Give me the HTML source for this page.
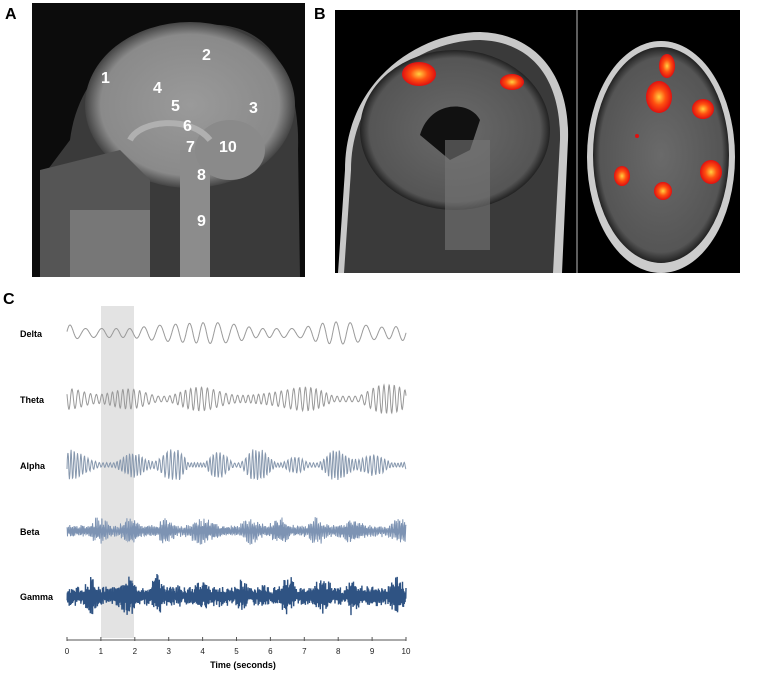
<!DOCTYPE html>
<html><head><meta charset="utf-8"><style>
html,body{margin:0;padding:0;background:#fff;width:765px;height:673px;overflow:hidden}
svg{display:block}
text{font-family:"Liberation Sans",sans-serif}
</style></head><body>
<svg id="s" width="765" height="673" viewBox="0 0 765 673" xmlns="http://www.w3.org/2000/svg">
<defs>
<radialGradient id="brainA" cx="0.5" cy="0.5" r="0.5">
<stop offset="0" stop-color="#9a9a9a"/><stop offset="0.85" stop-color="#8a8a8a"/><stop offset="1" stop-color="#444"/></radialGradient>
<radialGradient id="blob" cx="0.5" cy="0.5" r="0.5">
<stop offset="0" stop-color="#ffd040"/><stop offset="0.5" stop-color="#ff5010"/><stop offset="1" stop-color="#e01010"/></radialGradient>
<radialGradient id="brainB" cx="0.5" cy="0.5" r="0.5">
<stop offset="0" stop-color="#6a6a6a"/><stop offset="0.9" stop-color="#555"/><stop offset="1" stop-color="#222"/></radialGradient>
</defs>
<!-- Panel A -->
<text x="5" y="19" font-size="16" font-weight="bold">A</text>
<rect x="32" y="3" width="273" height="274" fill="#0c0c0c"/>
<path d="M70,140 C80,60 150,20 220,25 C280,30 300,90 298,150 L300,277 L150,277 L120,230 L50,230 L40,180 Z" fill="#3a3a3a"/>
<ellipse cx="190" cy="105" rx="105" ry="83" fill="url(#brainA)"/>
<path d="M40,170 L120,150 L150,180 L150,277 L40,277 Z" fill="#555"/>
<rect x="70" y="210" width="80" height="67" fill="#777"/>
<rect x="180" y="150" width="30" height="127" fill="#8c8c8c"/>
<ellipse cx="230" cy="150" rx="35" ry="30" fill="#8a8a8a"/>
<path d="M130,140 C140,120 190,115 210,140" stroke="#b0b0b0" stroke-width="6" fill="none"/>
<g fill="#fff" font-weight="bold" font-size="16">
<text x="101" y="83">1</text><text x="202" y="60">2</text><text x="249" y="113">3</text>
<text x="153" y="93">4</text><text x="171" y="111">5</text><text x="183" y="131">6</text>
<text x="186" y="152">7</text><text x="197" y="180">8</text><text x="197" y="226">9</text>
<text x="219" y="152">10</text></g>
<!-- Panel B -->
<text x="314" y="19" font-size="16" font-weight="bold">B</text>
<rect x="335" y="10" width="405" height="263" fill="#000"/>
<line x1="577" y1="10" x2="577" y2="273" stroke="#bbb" stroke-width="1"/>
<path d="M345,170 C345,80 420,32 480,32 C540,34 570,80 568,140 L562,273 L338,273 Z" fill="#c8c8c8"/>
<path d="M351,170 C351,86 422,40 480,40 C536,42 561,84 560,140 L553,273 L344,273 Z" fill="#3a3a3a"/>
<ellipse cx="455" cy="130" rx="95" ry="80" fill="url(#brainB)"/>
<path d="M420,135 C430,100 470,100 480,120 L470,150 L450,160 Z" fill="#111"/>
<rect x="445" y="140" width="45" height="110" fill="#777" opacity="0.6"/>
<ellipse cx="419" cy="74" rx="17" ry="12" fill="url(#blob)"/>
<ellipse cx="512" cy="82" rx="12" ry="8" fill="url(#blob)"/>
<ellipse cx="661" cy="157" rx="74" ry="116" fill="#ccc"/>
<ellipse cx="661" cy="155" rx="68" ry="108" fill="url(#brainB)"/>
<ellipse cx="667" cy="66" rx="8" ry="12" fill="url(#blob)"/>
<ellipse cx="659" cy="97" rx="13" ry="16" fill="url(#blob)"/>
<ellipse cx="703" cy="109" rx="11" ry="10" fill="url(#blob)"/>
<ellipse cx="622" cy="176" rx="8" ry="10" fill="url(#blob)"/>
<ellipse cx="663" cy="191" rx="9" ry="9" fill="url(#blob)"/>
<ellipse cx="711" cy="172" rx="11" ry="12" fill="url(#blob)"/>
<circle cx="637" cy="136" r="2" fill="#e01010"/>
<!-- Panel C -->
<text x="3" y="304" font-size="16" font-weight="bold">C</text>
<rect x="101" y="306" width="33" height="332" fill="#e3e3e3"/>
<g font-size="9" font-weight="bold">
<text x="20" y="337">Delta</text><text x="20" y="403">Theta</text><text x="20" y="469">Alpha</text>
<text x="20" y="535">Beta</text><text x="20" y="600">Gamma</text></g>
<line x1="67" y1="640" x2="406" y2="640" stroke="#555" stroke-width="1"/>
<g id="ticks" font-size="8" fill="#222" text-anchor="middle"></g>
<text x="243" y="668" font-size="9" font-weight="bold" text-anchor="middle">Time (seconds)</text>
<g id="waves" fill="none"></g>
</svg>
<script>
var NS="http://www.w3.org/2000/svg";
var t=document.getElementById("ticks");
for(var i=0;i<=10;i++){var x=67+i*33.9;
var l=document.createElementNS(NS,"line");l.setAttribute("x1",x);l.setAttribute("x2",x);l.setAttribute("y1",637);l.setAttribute("y2",641);l.setAttribute("stroke","#555");t.appendChild(l);
var tx=document.createElementNS(NS,"text");tx.setAttribute("x",x);tx.setAttribute("y",654);tx.textContent=i;t.appendChild(tx);}
var seed=11;function r(){seed=(seed*16807)%2147483647;return seed/2147483647;}
// [center, freq, amp, color, width, jitter, envspeed, floor]
var W=[[333,2.3,15,"#9a9a9a",1,0,1.2,0.3],[399,6,14,"#999",1,0,2,0.2],[465,10,15,"#8798ae",1,0.15,3,0.15],[531,22,13,"#7d93b3",1,0.6,5,0.35],[596,45,16,"#2f5383",1.4,0.7,6,0.45]];
var g=document.getElementById("waves");
W.forEach(function(w){var d="",N=w[1]>15?2200:1000,ph=r()*6;
var A=[],P=[],F=[];for(var j=0;j<5;j++){A.push(0.5+r());P.push(r()*6.28);F.push(w[6]*(0.5+r()*1.5));}
for(var k=0;k<=N;k++){var x=67+339*k/N;var tt=10*k/N;
var env=0;for(j=0;j<5;j++)env+=A[j]*Math.sin(F[j]*tt+P[j]);
env=0.5+0.5*env/3;env=Math.max(w[7],Math.min(1,env));
ph+=2*Math.PI*w[1]*(10/N)*(1+0.1*Math.sin(tt*3.1+P[1]));
var jit=w[5]?(1-w[5])+w[5]*1.6*Math.pow(r(),1.5):1;
var y=w[0]-w[2]*env*Math.sin(ph)*jit;
d+=(k?"L":"M")+x.toFixed(1)+","+y.toFixed(1);}
var p=document.createElementNS(NS,"path");p.setAttribute("d",d);p.setAttribute("stroke",w[3]);p.setAttribute("stroke-width",w[4]);g.appendChild(p);});
</script>
</body></html>
